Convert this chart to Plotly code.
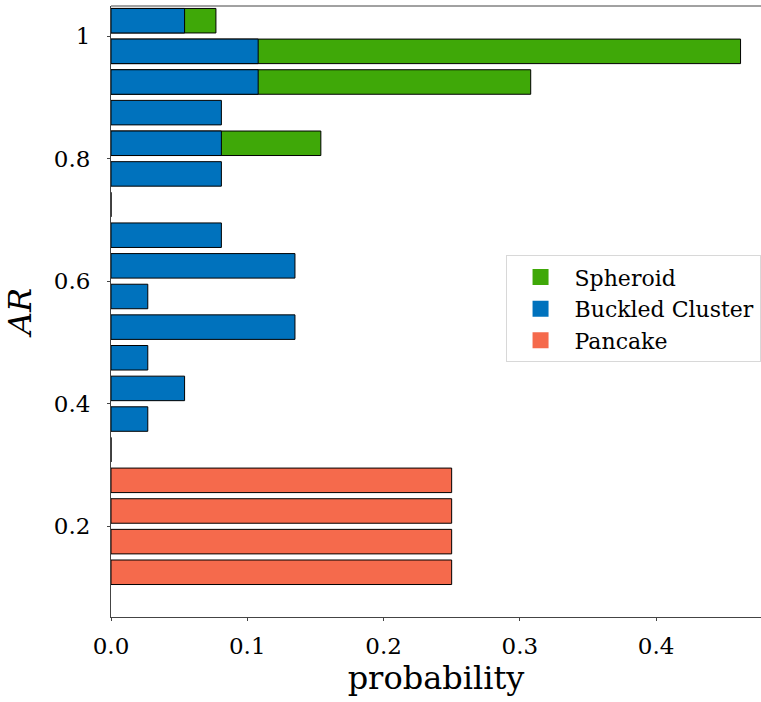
import plotly.graph_objects as go

# bin centres (AR) and probabilities
pancake_ar = [0.125, 0.175, 0.225, 0.275]
pancake_p = [0.25, 0.25, 0.25, 0.25]

buckled_ar = [0.325, 0.375, 0.425, 0.475, 0.525, 0.575, 0.625, 0.675,
              0.725, 0.775, 0.825, 0.875, 0.925, 0.975, 1.025]
buckled_p = [0.0, 0.027, 0.054, 0.027, 0.135, 0.027, 0.135, 0.081,
             0.0, 0.081, 0.081, 0.081, 0.108, 0.108, 0.054]

spheroid_ar = [0.825, 0.925, 0.975, 1.025]
spheroid_p = [0.154, 0.308, 0.462, 0.077]

names = ["Spheroid", "Buckled Cluster", "Pancake"]
colors = ["#3fa808", "#0072bd", "#f56a4c"]

y_ticks = [0.2, 0.4, 0.6, 0.8, 1.0]
y_ticktext = ["0.2", "0.4", "0.6", "0.8", "1"]
x_ticks = [0.0, 0.1, 0.2, 0.3, 0.4]

FONT = "DejaVu Serif"
fig = go.Figure()

for ar, p, c in [(spheroid_ar, spheroid_p, colors[0]),
                 (buckled_ar, buckled_p, colors[1]),
                 (pancake_ar, pancake_p, colors[2])]:
    fig.add_trace(go.Bar(y=ar, x=p, orientation="h", width=0.04,
                         marker=dict(color=c, line=dict(color="black", width=1)),
                         showlegend=False, hoverinfo="skip"))

# legend entries
for n, c in zip(names, colors):
    fig.add_trace(go.Scatter(x=[None], y=[None], mode="markers", name=n,
                             marker=dict(symbol="square", size=20, color=c)))

fig.update_layout(
    width=761, height=702,
    margin=dict(l=111, r=0, t=6, b=85),
    paper_bgcolor="white", plot_bgcolor="white",
    barmode="overlay",
    font=dict(family=FONT, size=23, color="black"),
    legend=dict(x=0.607, y=0.592, xanchor="left", yanchor="top",
                bgcolor="white", bordercolor="#d8d8d8", borderwidth=1,
                font=dict(family=FONT, size=22), itemwidth=58,
                tracegroupgap=0),
    xaxis=dict(range=[0, 0.477], tickvals=x_ticks, tickformat=".1f",
               showgrid=False, zeroline=False,
               showline=True, linecolor="#444", linewidth=1, mirror=False,
               ticks="outside", ticklen=3, tickcolor="#444",
               tickfont=dict(family=FONT, size=23),
               ticklabelstandoff=5,
               title=dict(text="probability", font=dict(family=FONT, size=32),
                          standoff=8)),
    yaxis=dict(range=[0.052, 1.049], tickvals=y_ticks, ticktext=y_ticktext,
               showgrid=False, zeroline=False,
               showline=True, linecolor="#444", linewidth=1,
               ticks="outside", ticklen=3, tickcolor="#444",
               tickfont=dict(family=FONT, size=23),
               ticklabelstandoff=12,
               title=dict(text="<i>AR</i>", font=dict(family=FONT, size=32),
                          standoff=12)),
)

# top spine
fig.add_shape(type="line", xref="paper", yref="paper", x0=0, x1=1, y0=1, y1=1,
              line=dict(color="#444", width=1))

fig.write_html("out.html")
